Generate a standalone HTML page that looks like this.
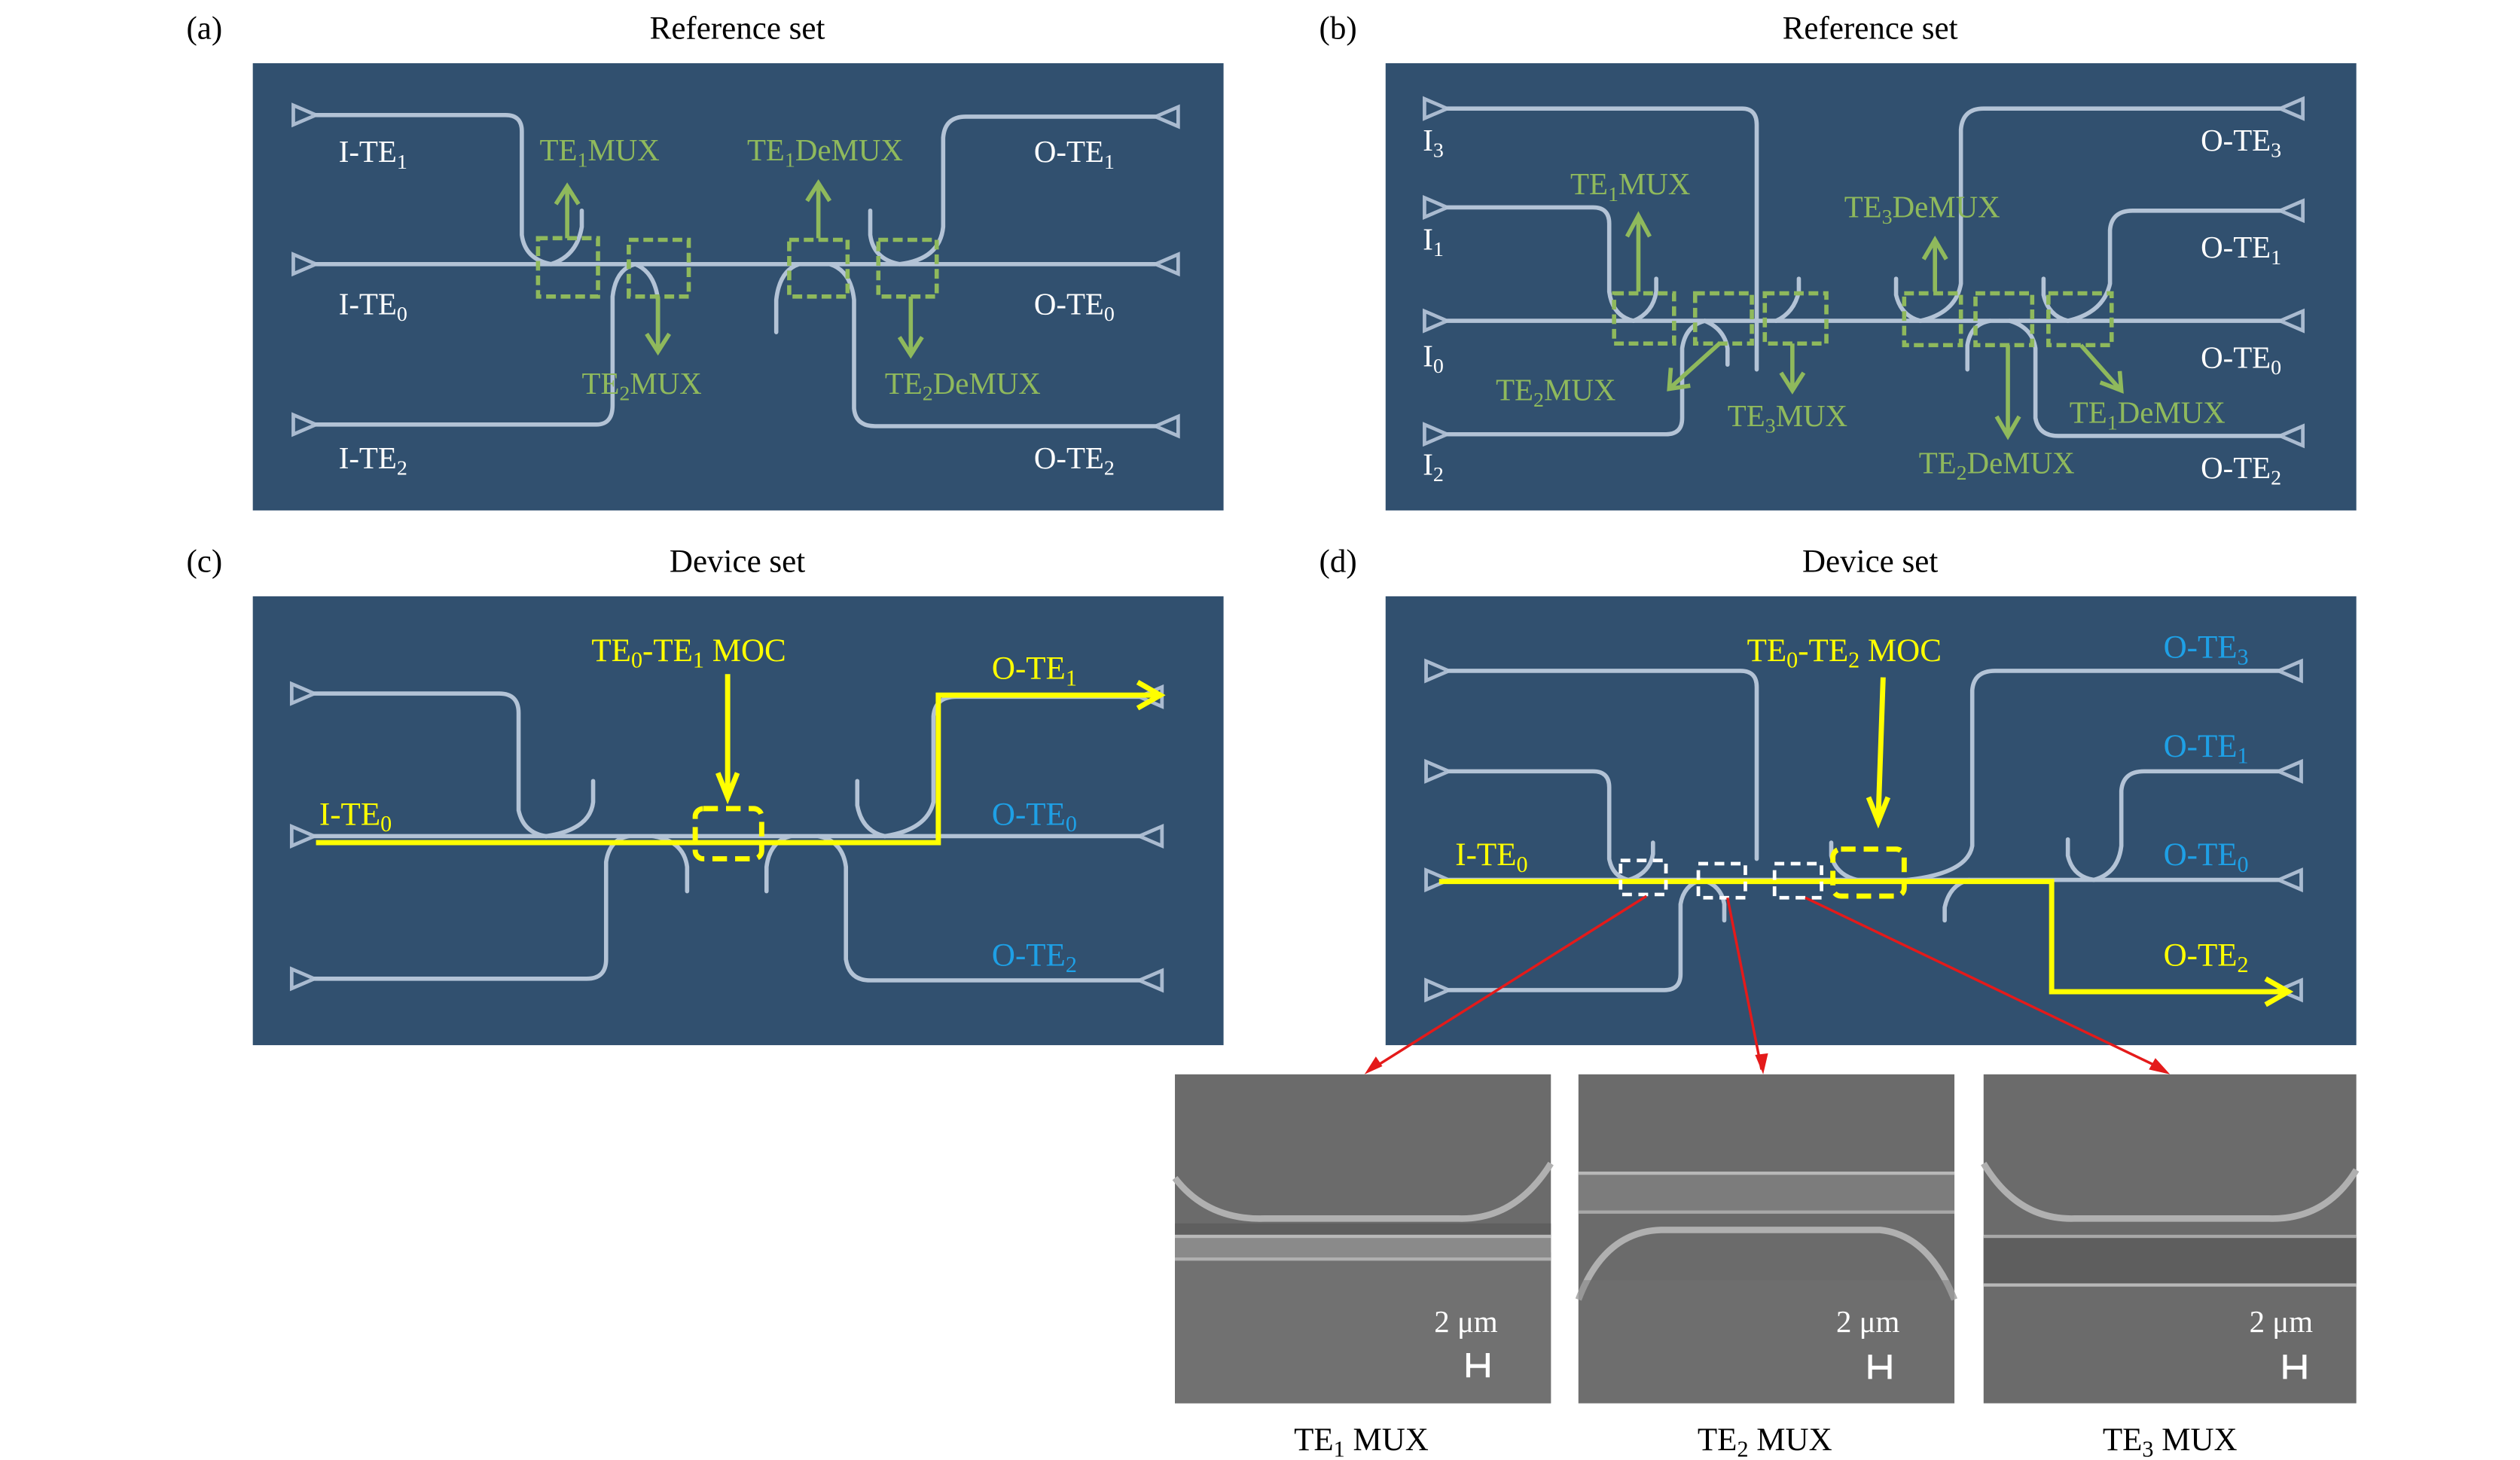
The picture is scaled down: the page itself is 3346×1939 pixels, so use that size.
<!DOCTYPE html>
<html><head><meta charset="utf-8"><style>
html,body{margin:0;padding:0;background:#fff;}
svg{display:block;}
text{font-family:"Liberation Serif",serif;}
</style></head><body>
<svg width="3346" height="1939" viewBox="0 0 1555 901" preserveAspectRatio="none" xmlns="http://www.w3.org/2000/svg">
<defs>
<style>
.wg{fill:none;stroke:#b3c3d6;stroke-width:2.6;stroke-linecap:round;}
.tri{fill:none;stroke:#aabbd0;stroke-width:2.2;}
.g{fill:#8fb95c;font-size:19px;}
.gl{fill:none;stroke:#8fb95c;stroke-width:2.6;}
.gd{fill:none;stroke:#8fb95c;stroke-width:2.6;stroke-dasharray:6,3;}
.w{fill:#fff;font-size:19px;}
.y{fill:#ffff00;font-size:20px;}
.b{fill:#1ea0e6;font-size:20px;}
.yl{fill:none;stroke:#ffff00;stroke-width:3.2;}
.k{fill:#000;font-size:20px;}
.sem{fill:#6b6b6b;}
</style>
</defs>

<!-- titles -->
<text class="k" x="115" y="24">(a)</text>
<text class="k" x="455" y="24" text-anchor="middle">Reference set</text>
<text class="k" x="814" y="24">(b)</text>
<text class="k" x="1154" y="24" text-anchor="middle">Reference set</text>
<text class="k" x="115" y="353">(c)</text>
<text class="k" x="455" y="353" text-anchor="middle">Device set</text>
<text class="k" x="814" y="353">(d)</text>
<text class="k" x="1154" y="353" text-anchor="middle">Device set</text>

<!-- ================= PANEL A ================= -->
<rect x="156" y="39" width="599" height="276" fill="#31506f"/>
<g>
<path class="tri" d="M181,65 L181,77 L195,71 Z"/>
<path class="tri" d="M181,157 L181,169 L195,163 Z"/>
<path class="tri" d="M181,256 L181,268 L195,262 Z"/>
<path class="tri" d="M727,66 L727,78 L713,72 Z"/>
<path class="tri" d="M727,157 L727,169 L713,163 Z"/>
<path class="tri" d="M727,257 L727,269 L713,263 Z"/>
<path class="wg" d="M195,71 L312,71 Q322,71 322,81 L322,145 Q324,160 340,163"/>
<path class="wg" d="M340,163 Q356,158 359,140 L359,130"/>
<path class="wg" d="M195,163 L713,163"/>
<path class="wg" d="M195,262 L368,262 Q378,262 378,250 L378,183 Q380,166 392,163"/>
<path class="wg" d="M392,163 Q404,168 406,185 L406,210"/>
<path class="wg" d="M479,205 L479,185 Q481,167 493,163"/>
<path class="wg" d="M512,163 Q525,167 527,185 L527,252 Q528,263 540,263 L713,263"/>
<path class="wg" d="M537,130 L537,145 Q539,160 555,163"/>
<path class="wg" d="M555,163 Q580,160 582,140 L582,85 Q583,72 596,72 L713,72"/>
</g>
<rect class="gd" x="332" y="147" width="37" height="36"/>
<rect class="gd" x="388" y="148" width="37" height="35"/>
<rect class="gd" x="487" y="148" width="36" height="35"/>
<rect class="gd" x="542" y="148" width="36" height="35"/>
<path class="gl" d="M350,147 L350,116 M343,126 L350,115 L357,126"/>
<path class="gl" d="M406,183 L406,216 M399,206 L406,217 L413,206"/>
<path class="gl" d="M505,147 L505,114 M498,124 L505,113 L512,124"/>
<path class="gl" d="M562,183 L562,218 M555,208 L562,219 L569,208"/>
<text class="g" x="333" y="99">TE<tspan font-size="13" dy="4">1</tspan><tspan dy="-4">MUX</tspan></text>
<text class="g" x="461" y="99">TE<tspan font-size="13" dy="4">1</tspan><tspan dy="-4">DeMUX</tspan></text>
<text class="g" x="359" y="243">TE<tspan font-size="13" dy="4">2</tspan><tspan dy="-4">MUX</tspan></text>
<text class="g" x="546" y="243">TE<tspan font-size="13" dy="4">2</tspan><tspan dy="-4">DeMUX</tspan></text>
<text class="w" x="209" y="100">I-TE<tspan font-size="13" dy="4">1</tspan></text>
<text class="w" x="209" y="194">I-TE<tspan font-size="13" dy="4">0</tspan></text>
<text class="w" x="209" y="289">I-TE<tspan font-size="13" dy="4">2</tspan></text>
<text class="w" x="638" y="100">O-TE<tspan font-size="13" dy="4">1</tspan></text>
<text class="w" x="638" y="194">O-TE<tspan font-size="13" dy="4">0</tspan></text>
<text class="w" x="638" y="289">O-TE<tspan font-size="13" dy="4">2</tspan></text>

<!-- ================= PANEL B ================= -->
<rect x="855" y="39" width="599" height="276" fill="#31506f"/>
<g>
<path class="tri" d="M879,61 L879,73 L893,67 Z"/>
<path class="tri" d="M879,122 L879,134 L893,128 Z"/>
<path class="tri" d="M879,192 L879,204 L893,198 Z"/>
<path class="tri" d="M879,262 L879,274 L893,268 Z"/>
<path class="tri" d="M1421,61 L1421,73 L1407,67 Z"/>
<path class="tri" d="M1421,124 L1421,136 L1407,130 Z"/>
<path class="tri" d="M1421,192 L1421,204 L1407,198 Z"/>
<path class="tri" d="M1421,263 L1421,275 L1407,269 Z"/>
<path class="wg" d="M893,67 L1075,67 Q1084,67 1084,77 L1084,228"/>
<path class="wg" d="M893,128 L983,128 Q993,128 993,138 L993,180 Q995,195 1008,198"/>
<path class="wg" d="M1008,198 Q1020,193 1022,180 L1022,172"/>
<path class="wg" d="M893,198 L1407,198"/>
<path class="wg" d="M893,268 L1028,268 Q1038,268 1038,258 L1038,215 Q1040,201 1052,198"/>
<path class="wg" d="M1052,198 Q1064,203 1066,215 L1066,225"/>
<path class="wg" d="M1096,198 Q1107,193 1110,180 L1110,172"/>
<path class="wg" d="M1170,172 L1170,182 Q1173,195 1185,198"/>
<path class="wg" d="M1185,198 Q1207,193 1210,175 L1210,80 Q1211,67 1224,67 L1407,67"/>
<path class="wg" d="M1214,228 L1214,213 Q1216,200 1228,198"/>
<path class="wg" d="M1240,198 Q1254,202 1256,215 L1256,258 Q1258,269 1270,269 L1407,269"/>
<path class="wg" d="M1261,172 L1261,182 Q1264,195 1276,198"/>
<path class="wg" d="M1276,198 Q1298,193 1302,175 L1302,142 Q1303,130 1316,130 L1407,130"/>
</g>
<rect class="gd" x="996" y="181" width="37" height="31"/>
<rect class="gd" x="1046" y="181" width="35" height="31"/>
<rect class="gd" x="1089" y="181" width="38" height="31"/>
<rect class="gd" x="1175" y="181" width="35" height="32"/>
<rect class="gd" x="1219" y="181" width="35" height="32"/>
<rect class="gd" x="1264" y="181" width="39" height="32"/>
<path class="gl" d="M1011,180 L1011,134 M1004,146 L1011,133 L1018,146"/>
<path class="gl" d="M1194,180 L1194,149 M1187,160 L1194,148 L1201,160"/>
<path class="gl" d="M1061,212 L1031,239 M1031,227 L1030,240 L1043,238"/>
<path class="gl" d="M1106,212 L1106,240 M1099,230 L1106,241 L1113,230"/>
<path class="gl" d="M1239,213 L1239,268 M1232,257 L1239,269 L1246,257"/>
<path class="gl" d="M1284,213 L1308,240 M1296,236 L1309,241 L1308,229"/>
<text class="g" x="969" y="120">TE<tspan font-size="13" dy="4">1</tspan><tspan dy="-4">MUX</tspan></text>
<text class="g" x="1138" y="134">TE<tspan font-size="13" dy="4">3</tspan><tspan dy="-4">DeMUX</tspan></text>
<text class="g" x="923" y="247">TE<tspan font-size="13" dy="4">2</tspan><tspan dy="-4">MUX</tspan></text>
<text class="g" x="1066" y="263">TE<tspan font-size="13" dy="4">3</tspan><tspan dy="-4">MUX</tspan></text>
<text class="g" x="1277" y="261">TE<tspan font-size="13" dy="4">1</tspan><tspan dy="-4">DeMUX</tspan></text>
<text class="g" x="1184" y="292">TE<tspan font-size="13" dy="4">2</tspan><tspan dy="-4">DeMUX</tspan></text>
<text class="w" x="878" y="93">I<tspan font-size="13" dy="4">3</tspan></text>
<text class="w" x="878" y="154">I<tspan font-size="13" dy="4">1</tspan></text>
<text class="w" x="878" y="226">I<tspan font-size="13" dy="4">0</tspan></text>
<text class="w" x="878" y="293">I<tspan font-size="13" dy="4">2</tspan></text>
<text class="w" x="1358" y="93">O-TE<tspan font-size="13" dy="4">3</tspan></text>
<text class="w" x="1358" y="159">O-TE<tspan font-size="13" dy="4">1</tspan></text>
<text class="w" x="1358" y="227">O-TE<tspan font-size="13" dy="4">0</tspan></text>
<text class="w" x="1358" y="295">O-TE<tspan font-size="13" dy="4">2</tspan></text>

<!-- ================= PANEL C ================= -->
<rect x="156" y="368" width="599" height="277" fill="#31506f"/>
<g>
<path class="tri" d="M180,422 L180,434 L194,428 Z"/>
<path class="tri" d="M180,510 L180,522 L194,516 Z"/>
<path class="tri" d="M180,598 L180,610 L194,604 Z"/>
<path class="tri" d="M717,424 L717,436 L703,430 Z"/>
<path class="tri" d="M717,510 L717,522 L703,516 Z"/>
<path class="tri" d="M717,599 L717,611 L703,605 Z"/>
<path class="wg" d="M194,428 L308,428 Q320,428 320,440 L320,500 Q323,514 337,516"/>
<path class="wg" d="M337,516 Q364,512 366,495 L366,482"/>
<path class="wg" d="M194,516 L703,516"/>
<path class="wg" d="M194,604 L362,604 Q374,604 374,592 L374,532 Q376,518 388,516"/>
<path class="wg" d="M403,516 Q422,519 424,535 L424,550"/>
<path class="wg" d="M473,550 L473,535 Q475,519 488,516"/>
<path class="wg" d="M505,516 Q520,519 522,535 L522,592 Q524,605 537,605 L703,605"/>
<path class="wg" d="M529,482 L529,497 Q532,513 546,516"/>
<path class="wg" d="M546,516 Q572,512 576,495 L576,442 Q577,430 590,430 L703,430"/>
</g>
<path class="yl" d="M195,520 L579,520 L579,429 L716,429"/>
<path class="yl" d="M702,421 L716,429 L702,437"/>
<rect x="429" y="499" width="41" height="31" rx="5" fill="none" stroke="#ffff00" stroke-width="3.2" stroke-dasharray="9,5"/>
<path class="yl" d="M449,416 L449,490 M443,477 L449,492 L455,477"/>
<text class="y" x="365" y="408">TE<tspan font-size="14" dy="4">0</tspan><tspan dy="-4">-TE</tspan><tspan font-size="14" dy="4">1</tspan><tspan dy="-4"> MOC</tspan></text>
<text class="y" x="197" y="509">I-TE<tspan font-size="14" dy="4">0</tspan></text>
<text class="y" x="612" y="419">O-TE<tspan font-size="14" dy="4">1</tspan></text>
<text class="b" x="612" y="509">O-TE<tspan font-size="14" dy="4">0</tspan></text>
<text class="b" x="612" y="596">O-TE<tspan font-size="14" dy="4">2</tspan></text>

<!-- ================= PANEL D ================= -->
<rect x="855" y="368" width="599" height="277" fill="#31506f"/>
<g>
<path class="tri" d="M880,408 L880,420 L894,414 Z"/>
<path class="tri" d="M880,470 L880,482 L894,476 Z"/>
<path class="tri" d="M880,537 L880,549 L894,543 Z"/>
<path class="tri" d="M880,605 L880,617 L894,611 Z"/>
<path class="tri" d="M1420,408 L1420,420 L1406,414 Z"/>
<path class="tri" d="M1420,470 L1420,482 L1406,476 Z"/>
<path class="tri" d="M1420,537 L1420,549 L1406,543 Z"/>
<path class="tri" d="M1420,605 L1420,617 L1406,611 Z"/>
<path class="wg" d="M894,414 L1074,414 Q1084,414 1084,424 L1084,530"/>
<path class="wg" d="M894,476 L983,476 Q993,476 993,486 L993,530 Q995,541 1005,543"/>
<path class="wg" d="M1005,543 Q1018,539 1020,527 L1020,520"/>
<path class="wg" d="M894,543 L1406,543"/>
<path class="wg" d="M894,611 L1027,611 Q1037,611 1037,601 L1037,558 Q1039,546 1050,543"/>
<path class="wg" d="M1050,543 Q1062,546 1064,558 L1064,568"/>
<path class="wg" d="M1130,520 L1130,528 Q1133,540 1146,543"/>
<path class="wg" d="M1177,543 Q1214,539 1217,522 L1217,426 Q1218,414 1231,414 L1406,414"/>
<path class="wg" d="M1200,568 L1200,560 Q1203,546 1215,543"/>
<path class="wg" d="M1276,518 L1276,528 Q1279,541 1292,543"/>
<path class="wg" d="M1292,543 Q1307,539 1309,522 L1309,488 Q1310,476 1323,476 L1406,476"/>
</g>
<path class="yl" d="M888,544 L1266,544 L1266,612 L1412,612"/>
<path class="yl" d="M1398,604 L1412,612 L1398,620"/>
<rect x="1000" y="531" width="28" height="21" fill="none" stroke="#fff" stroke-width="2.2" stroke-dasharray="6,4"/>
<rect x="1048" y="533" width="29" height="21" fill="none" stroke="#fff" stroke-width="2.2" stroke-dasharray="6,4"/>
<rect x="1095" y="533" width="29" height="21" fill="none" stroke="#fff" stroke-width="2.2" stroke-dasharray="6,4"/>
<rect x="1131" y="524" width="44" height="29" rx="5" fill="none" stroke="#ffff00" stroke-width="3.2" stroke-dasharray="9,5"/>
<path class="yl" d="M1162,418 L1159,505 M1153,492 L1159,507 L1165,492"/>
<text class="y" x="1078" y="408">TE<tspan font-size="14" dy="4">0</tspan><tspan dy="-4">-TE</tspan><tspan font-size="14" dy="4">2</tspan><tspan dy="-4"> MOC</tspan></text>
<text class="y" x="898" y="534">I-TE<tspan font-size="14" dy="4">0</tspan></text>
<text class="b" x="1335" y="406">O-TE<tspan font-size="14" dy="4">3</tspan></text>
<text class="b" x="1335" y="467">O-TE<tspan font-size="14" dy="4">1</tspan></text>
<text class="b" x="1335" y="534">O-TE<tspan font-size="14" dy="4">0</tspan></text>
<text class="y" x="1335" y="596">O-TE<tspan font-size="14" dy="4">2</tspan></text>

<!-- red arrows -->
<g stroke="#e41a1a" stroke-width="1.6" fill="none">
<path d="M1016,553 L846,660"/>
<path d="M1066,554 L1087,660"/>
<path d="M1114,554 L1335,660"/>
</g>
<g fill="#e41a1a">
<path d="M842,663 L849,652 L853,658 Z"/>
<path d="M1088,663 L1083,651 L1091,650 Z"/>
<path d="M1339,663 L1326,660 L1330,653 Z"/>
</g>

<!-- SEM images -->
<rect class="sem" x="725" y="663" width="232" height="203"/>
<rect x="725" y="773" width="232" height="93" fill="#717171"/>
<rect x="725" y="755" width="232" height="8" fill="#5f5f5f"/>
<path d="M725,727 Q745,753 780,752 L900,752 Q935,753 957,718" fill="none" stroke="#b0b0b0" stroke-width="4"/>
<rect x="725" y="762" width="232" height="15" fill="#8a8a8a"/>
<rect x="725" y="762" width="232" height="2" fill="#b8b8b8"/>
<rect x="725" y="776" width="232" height="2" fill="#b0b0b0"/>

<rect class="sem" x="974" y="663" width="232" height="203"/>
<rect x="974" y="724" width="232" height="24" fill="#7c7c7c"/>
<rect x="974" y="723" width="232" height="2" fill="#b8b8b8"/>
<rect x="974" y="747" width="232" height="2" fill="#a8a8a8"/>
<path d="M974,802 Q990,760 1025,759 L1160,759 Q1190,762 1206,802" fill="none" stroke="#b0b0b0" stroke-width="4"/>
<rect x="974" y="790" width="232" height="76" fill="#727272" opacity="0.4"/>

<rect class="sem" x="1224" y="663" width="230" height="203"/>
<path d="M1224,718 Q1245,753 1280,752 L1400,752 Q1435,753 1454,722" fill="none" stroke="#b0b0b0" stroke-width="4"/>
<rect x="1224" y="763" width="230" height="30" fill="#5e5e5e"/>
<rect x="1224" y="762" width="230" height="2" fill="#a8a8a8"/>
<rect x="1224" y="792" width="230" height="2" fill="#b8b8b8"/>

<g class="w" font-size="19">
<text x="885" y="822" style="font-size:19px">2 μm</text>
<text x="1133" y="822" style="font-size:19px">2 μm</text>
<text x="1388" y="822" style="font-size:19px">2 μm</text>
</g>
<g stroke="#fff" stroke-width="2.4" fill="none">
<path d="M906,835 L906,850 M918,835 L918,850 M906,843 L918,843"/>
<path d="M1154,836 L1154,851 M1166,836 L1166,851 M1154,844 L1166,844"/>
<path d="M1410,836 L1410,851 M1422,836 L1422,851 M1410,844 L1422,844"/>
</g>

<text class="k" x="840" y="895" text-anchor="middle">TE<tspan font-size="14" dy="4">1</tspan><tspan dy="-4"> MUX</tspan></text>
<text class="k" x="1089" y="895" text-anchor="middle">TE<tspan font-size="14" dy="4">2</tspan><tspan dy="-4"> MUX</tspan></text>
<text class="k" x="1339" y="895" text-anchor="middle">TE<tspan font-size="14" dy="4">3</tspan><tspan dy="-4"> MUX</tspan></text>
</svg>
</body></html>
